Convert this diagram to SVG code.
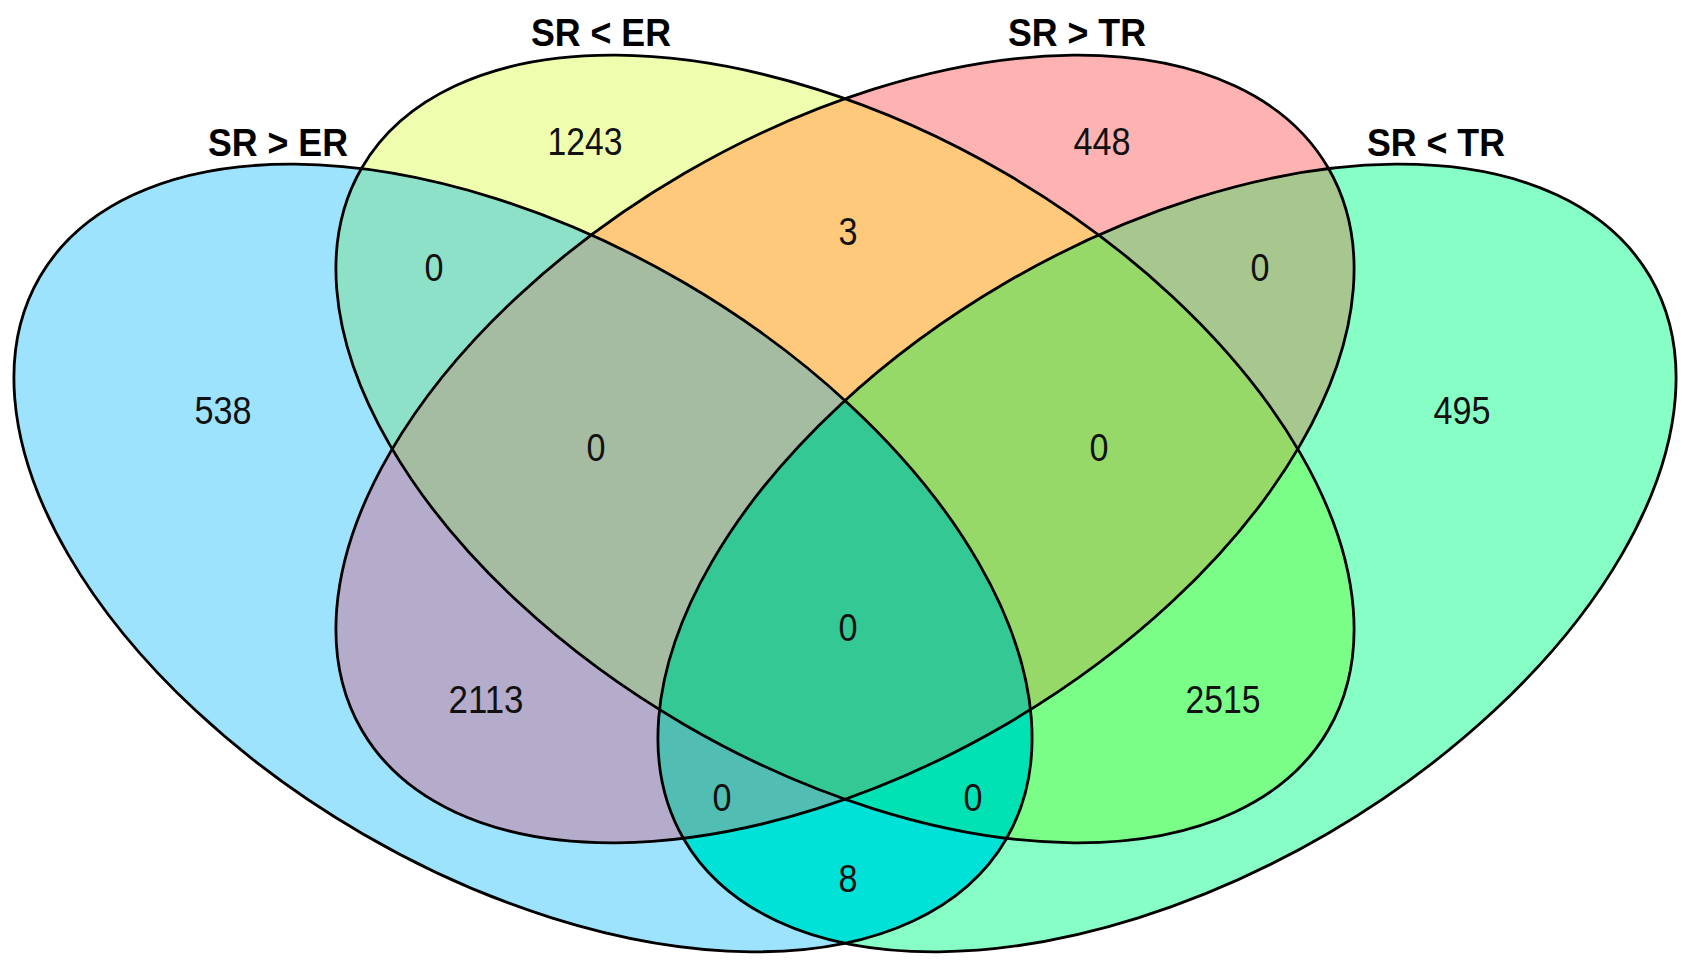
<svg xmlns="http://www.w3.org/2000/svg" width="1689" height="969" viewBox="0 0 1689 969">
<style>
.lbl{font-family:"Liberation Sans",Arial,sans-serif;font-weight:bold;font-size:38px;fill:#000;text-anchor:middle}
.num{font-family:"Liberation Sans",Arial,sans-serif;font-size:38px;fill:#111;text-anchor:middle}
.out{fill:none;stroke:#000;stroke-width:2.8}
</style>
<defs>
<clipPath id="cA"><ellipse cx="523" cy="558" rx="559" ry="319" transform="rotate(30.2 523 558)"/></clipPath>
<clipPath id="cB"><ellipse cx="845" cy="449" rx="559" ry="319" transform="rotate(30.2 845 449)"/></clipPath>
<clipPath id="cC"><ellipse cx="845" cy="449" rx="559" ry="319" transform="rotate(-30.2 845 449)"/></clipPath>
</defs>
<rect width="1689" height="969" fill="#fff"/>
<g id="region-fills">
<ellipse cx="523" cy="558" rx="559" ry="319" transform="rotate(30.2 523 558)" fill="#9DE3FE"/>
<ellipse cx="1167" cy="558" rx="559" ry="319" transform="rotate(-30.2 1167 558)" fill="#87FEC6"/>
<ellipse cx="845" cy="449" rx="559" ry="319" transform="rotate(30.2 845 449)" fill="#EEFEAE"/>
<ellipse cx="845" cy="449" rx="559" ry="319" transform="rotate(-30.2 845 449)" fill="#FEB2B2"/>
<g clip-path="url(#cA)"><ellipse cx="845" cy="449" rx="559" ry="319" transform="rotate(30.2 845 449)" fill="#8EE1C9"/></g>
<g clip-path="url(#cA)"><ellipse cx="845" cy="449" rx="559" ry="319" transform="rotate(-30.2 845 449)" fill="#B5ABCB"/></g>
<g clip-path="url(#cA)"><ellipse cx="1167" cy="558" rx="559" ry="319" transform="rotate(-30.2 1167 558)" fill="#00E2D8"/></g>
<g clip-path="url(#cB)"><ellipse cx="845" cy="449" rx="559" ry="319" transform="rotate(-30.2 845 449)" fill="#FEC97B"/></g>
<g clip-path="url(#cB)"><ellipse cx="1167" cy="558" rx="559" ry="319" transform="rotate(-30.2 1167 558)" fill="#7AFE88"/></g>
<g clip-path="url(#cC)"><ellipse cx="1167" cy="558" rx="559" ry="319" transform="rotate(-30.2 1167 558)" fill="#A8C78F"/></g>
<g clip-path="url(#cA)"><g clip-path="url(#cB)"><ellipse cx="845" cy="449" rx="559" ry="319" transform="rotate(-30.2 845 449)" fill="#A5BCA2"/></g></g>
<g clip-path="url(#cA)"><g clip-path="url(#cB)"><ellipse cx="1167" cy="558" rx="559" ry="319" transform="rotate(-30.2 1167 558)" fill="#00E2B4"/></g></g>
<g clip-path="url(#cA)"><g clip-path="url(#cC)"><ellipse cx="1167" cy="558" rx="559" ry="319" transform="rotate(-30.2 1167 558)" fill="#52BDB2"/></g></g>
<g clip-path="url(#cB)"><g clip-path="url(#cC)"><ellipse cx="1167" cy="558" rx="559" ry="319" transform="rotate(-30.2 1167 558)" fill="#97D968"/></g></g>
<g clip-path="url(#cA)"><g clip-path="url(#cB)"><g clip-path="url(#cC)"><ellipse cx="1167" cy="558" rx="559" ry="319" transform="rotate(-30.2 1167 558)" fill="#33C894"/></g></g></g>
</g>
<g id="set-sr-gt-er">
<ellipse class="out" cx="523" cy="558" rx="559" ry="319" transform="rotate(30.2 523 558)"/>
<text class="lbl" x="278" y="156" textLength="140" lengthAdjust="spacingAndGlyphs">SR &gt; ER</text>
</g>
<g id="set-sr-lt-er">
<ellipse class="out" cx="845" cy="449" rx="559" ry="319" transform="rotate(30.2 845 449)"/>
<text class="lbl" x="601" y="46" textLength="140" lengthAdjust="spacingAndGlyphs">SR &lt; ER</text>
</g>
<g id="set-sr-gt-tr">
<ellipse class="out" cx="845" cy="449" rx="559" ry="319" transform="rotate(-30.2 845 449)"/>
<text class="lbl" x="1077" y="46" textLength="138" lengthAdjust="spacingAndGlyphs">SR &gt; TR</text>
</g>
<g id="set-sr-lt-tr">
<ellipse class="out" cx="1167" cy="558" rx="559" ry="319" transform="rotate(-30.2 1167 558)"/>
<text class="lbl" x="1436" y="156" textLength="138" lengthAdjust="spacingAndGlyphs">SR &lt; TR</text>
</g>
<g id="counts">
<text class="num" x="585" y="155" textLength="75" lengthAdjust="spacingAndGlyphs">1243</text>
<text class="num" x="1102" y="155" textLength="57" lengthAdjust="spacingAndGlyphs">448</text>
<text class="num" x="848" y="245" textLength="19" lengthAdjust="spacingAndGlyphs">3</text>
<text class="num" x="434" y="281" textLength="19" lengthAdjust="spacingAndGlyphs">0</text>
<text class="num" x="1260" y="281" textLength="19" lengthAdjust="spacingAndGlyphs">0</text>
<text class="num" x="223" y="424" textLength="57" lengthAdjust="spacingAndGlyphs">538</text>
<text class="num" x="1462" y="424" textLength="57" lengthAdjust="spacingAndGlyphs">495</text>
<text class="num" x="596" y="461" textLength="19" lengthAdjust="spacingAndGlyphs">0</text>
<text class="num" x="1099" y="461" textLength="19" lengthAdjust="spacingAndGlyphs">0</text>
<text class="num" x="848" y="641" textLength="19" lengthAdjust="spacingAndGlyphs">0</text>
<text class="num" x="486" y="713" textLength="75" lengthAdjust="spacingAndGlyphs">2113</text>
<text class="num" x="1223" y="713" textLength="75" lengthAdjust="spacingAndGlyphs">2515</text>
<text class="num" x="722" y="811" textLength="19" lengthAdjust="spacingAndGlyphs">0</text>
<text class="num" x="973" y="811" textLength="19" lengthAdjust="spacingAndGlyphs">0</text>
<text class="num" x="848" y="892" textLength="19" lengthAdjust="spacingAndGlyphs">8</text>
</g>
</svg>
